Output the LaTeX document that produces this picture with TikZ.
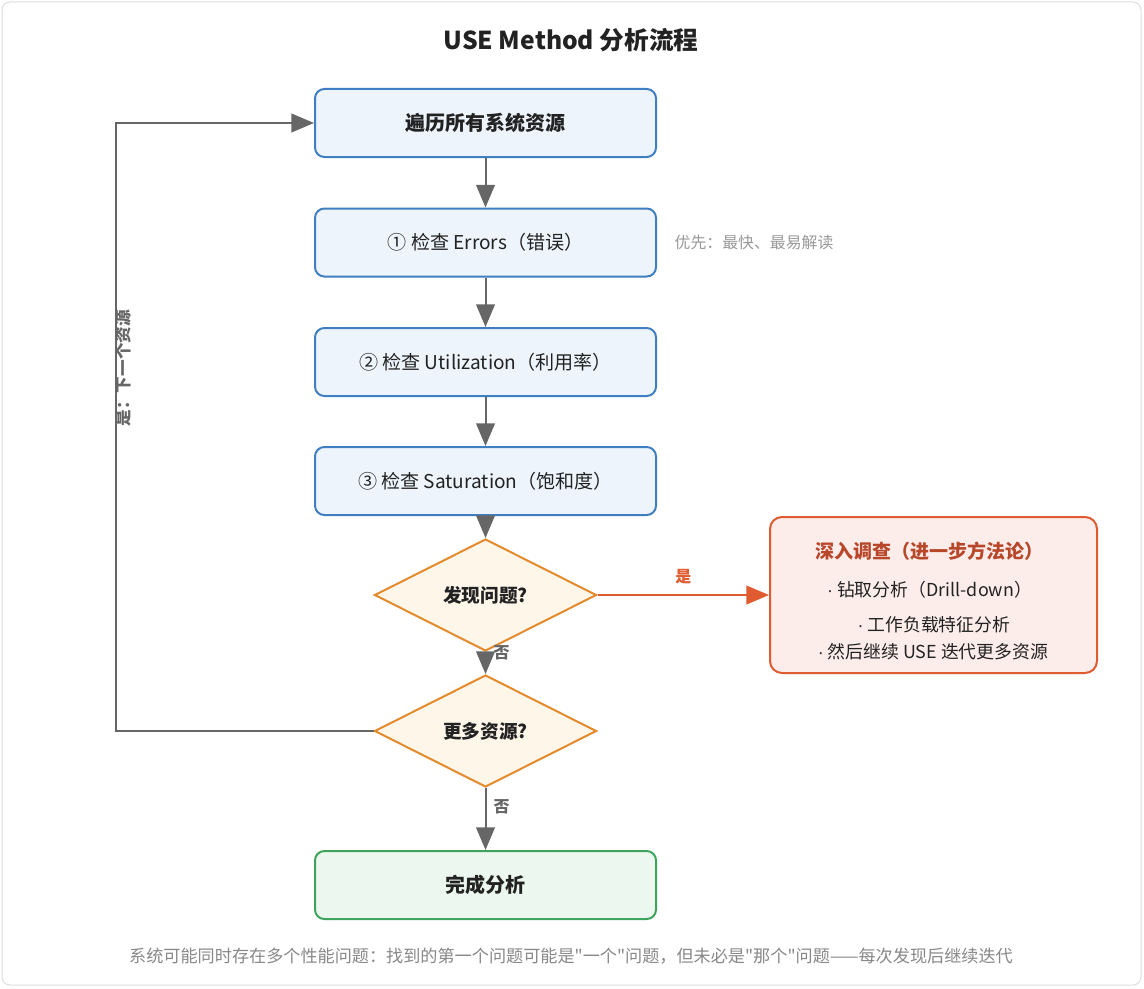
\documentclass[tikz,border=0pt]{standalone}
\usepackage{fontspec}
\setmainfont{Noto Sans CJK SC}[Ligatures=TeXOff]
\newfontfamily\dotfont{Liberation Sans}
\usetikzlibrary{arrows.meta,shapes.geometric}
\definecolor{stepfill}{HTML}{EDF4FC}
\definecolor{stepline}{HTML}{3F7EC1}
\definecolor{askfill}{HTML}{FFF6EA}
\definecolor{askline}{HTML}{E38B2C}
\definecolor{donefill}{HTML}{ECF8EF}
\definecolor{doneline}{HTML}{3DA35D}
\definecolor{deepfill}{HTML}{FCEDEA}
\definecolor{deepline}{HTML}{E05B2F}
\definecolor{deeptext}{HTML}{B8472A}
\definecolor{flow}{HTML}{666666}
\definecolor{notegray}{HTML}{999999}
\definecolor{footgray}{HTML}{888888}
\definecolor{framegray}{HTML}{DDDDDD}
\definecolor{ink}{HTML}{222222}
\newcommand{\dotitem}{{\dotfont\char"00B7}\ }
\begin{document}
\begin{tikzpicture}[x=0.75pt,y=-0.75pt,
  stepbox/.style={shape=rectangle,rounded corners=7pt,draw=stepline,fill=stepfill,line width=1.5pt,
    minimum width=255.75pt,minimum height=51pt,text=ink,font=\fontsize{14.3}{17}\selectfont},
  ask/.style={shape=diamond,draw=askline,fill=askfill,line width=1.5pt,inner sep=0pt,
    minimum width=166.5pt,minimum height=84pt,text=ink,font=\bfseries\fontsize{14}{17}\selectfont},
  flowline/.style={color=flow,line width=1.5pt,-{Triangle[length=17pt,width=14pt]}},
  lbl/.style={text=flow,font=\bfseries\fontsize{12}{14}\selectfont},
  item/.style={text=ink,font=\fontsize{13.4}{16}\selectfont}]
\useasboundingbox (0,0) rectangle (1144,988);
\draw[framegray,line width=0.75pt,rounded corners=6pt,fill=white] (2,2) rectangle (1141,985);
\node[text=ink,font=\bfseries\fontsize{18.5}{22}\selectfont] (title) at (571,40) {USE Method 分析流程};
\node[stepbox,font=\bfseries\fontsize{15}{18}\selectfont] (scan) at (485.5,123) {遍历所有系统资源};
\node[stepbox] (err) at (485.5,242.5) {① 检查 Errors（错误）};
\node[stepbox] (util) at (485.5,362) {② 检查 Utilization（利用率）};
\node[stepbox] (sat) at (485.5,481) {③ 检查 Saturation（饱和度）};
\node[ask] (found) at (485.5,595) {发现问题?};
\node[ask] (more) at (485.5,731) {更多资源?};
\node[stepbox,draw=doneline,fill=donefill,font=\bfseries\fontsize{15}{18}\selectfont] (done) at (485.5,885) {完成分析};
\node[shape=rectangle,rounded corners=9pt,draw=deepline,fill=deepfill,line width=1.5pt,
  minimum width=245.25pt,minimum height=117pt] (deep) at (933.5,595) {};
\node[text=deeptext,font=\bfseries\fontsize{14.25}{17}\selectfont] (deeptitle) at (929,551) {深入调查（进一步方法论）};
\node[item] (drill) at (929.5,590) {\dotitem 钻取分析（Drill-down）};
\node[item] (load) at (934,625) {\dotitem 工作负载特征分析};
\node[item] (iter) at (933,652) {\dotitem 然后继续 USE 迭代更多资源};
\node[text=notegray,font=\fontsize{11.9}{14}\selectfont,anchor=west] (note) at (670,243) {优先：最快、最易解读};
\node[text=footgray,font=\fontsize{12.85}{15}\selectfont] (foot) at (571,956) {系统可能同时存在多个性能问题：找到的第一个问题可能是"一个"问题，但未必是"那个"问题——每次发现后继续迭代};
% main flow
\path[flowline] (scan) edge (err);
\path[flowline] (err) edge (util);
\path[flowline] (util) edge (sat);
\path[flowline] (sat) edge (found);
\path[flowline] (found) edge node[lbl,right,pos=0.05,xshift=2pt] {否} (more);
\path[flowline] (more) edge node[lbl,right,pos=0.3,xshift=2pt] {否} (done);
\path[flowline,color=deepline] (found) edge node[above,text=deepline,font=\bfseries\fontsize{12}{14}\selectfont,yshift=4pt] {是} (deep);
% loop back
\coordinate (back) at (116,731);
\draw[flowline] (more.west) -- (back) |- (scan.west);
\node[lbl,rotate=90,font=\bfseries\fontsize{12.5}{15}\selectfont] (nextres) at (123,368) {是：下一个资源};
\end{tikzpicture}
\end{document}
